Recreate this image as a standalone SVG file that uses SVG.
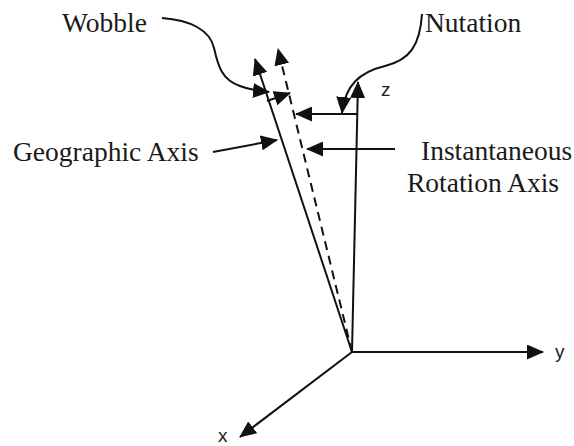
<svg xmlns="http://www.w3.org/2000/svg" width="574" height="446" viewBox="0 0 574 446">
<style>
.ln{stroke:#111;stroke-width:2;fill:none}
.ar{marker-end:url(#ah)}
.serif{font-family:"Liberation Serif","Times New Roman",serif;font-size:27.5px;fill:#1a1a1a}
.sans{font-family:"Liberation Sans",Arial,sans-serif;font-size:19px;fill:#222}
</style>
<defs>
<marker id="ah" markerUnits="userSpaceOnUse" markerWidth="17" markerHeight="15" refX="16" refY="7.5" orient="auto">
<path d="M0,0 L17,7.5 L0,15 z" fill="#111"/>
</marker>
</defs>
<rect width="574" height="446" fill="#fff"/>
<g id="connectors">
<line id="y-axis" class="ln ar" x1="352" y1="352" x2="543" y2="352"/>
<line id="x-axis" class="ln ar" x1="352" y1="352" x2="240" y2="437"/>
<line id="z-axis" class="ln ar" x1="352" y1="352" x2="358" y2="82"/>
<line id="geo-axis" class="ln ar" x1="352" y1="352" x2="255" y2="59"/>
<line id="inst-axis" class="ln ar" x1="352" y1="352" x2="278" y2="49" stroke-dasharray="9,6" stroke-width="2.5"/>
<line id="wobble-disp" class="ln ar" x1="267" y1="101" x2="290" y2="93"/>
<line id="nutation-disp" class="ln ar" x1="357" y1="114" x2="296" y2="114"/>
<path id="wobble-curve" class="ln ar" d="M162,18 C190,20 210,30 214,48 C218,66 222,80 240,86 C250,90 258,91 269,92"/>
<path id="nutation-curve" class="ln ar" d="M422,14 C420,45 410,60 385,66 C360,72 345,85 342,113"/>
<line id="geo-pointer" class="ln ar" x1="213" y1="152" x2="277" y2="140"/>
<line id="inst-pointer" class="ln ar" x1="395" y1="149" x2="307" y2="149"/>
</g>
<g id="wobble-label"><text class="serif" x="62" y="32">Wobble</text></g>
<g id="nutation-label"><text class="serif" x="425" y="32">Nutation</text></g>
<g id="geo-label"><text class="serif" x="13" y="161">Geographic Axis</text></g>
<g id="inst-label"><text class="serif" x="421" y="160">Instantaneous</text><text class="serif" x="407" y="192">Rotation Axis</text></g>
<g id="z-label"><text class="sans" x="381" y="96">z</text></g>
<g id="y-label"><text class="sans" x="555" y="358">y</text></g>
<g id="x-label"><text class="sans" x="218" y="442">x</text></g>
</svg>
